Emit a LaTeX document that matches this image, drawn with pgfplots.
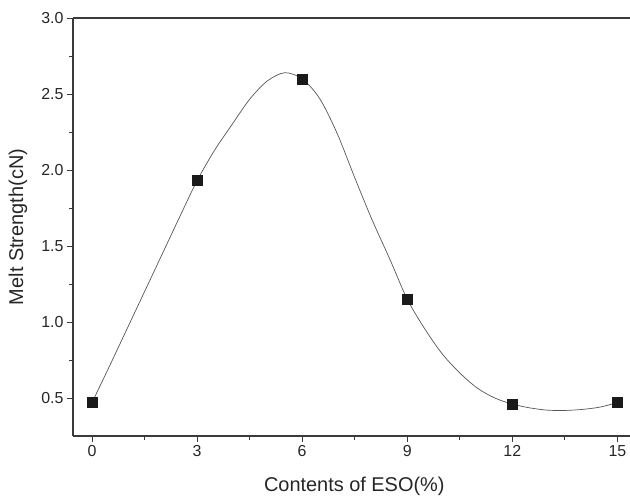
\documentclass[border=0pt]{standalone}
\usepackage{fontspec}
\setmainfont{Liberation Sans}
\usepackage{pgfplots}
\pgfplotsset{compat=1.18}

\definecolor{axisgray}{HTML}{3A3A3A}
\definecolor{curvegray}{HTML}{555555}
\definecolor{markblack}{HTML}{1A1A1A}

\begin{document}
\begin{tikzpicture}
\begin{axis}[
  scale only axis,
  width=557bp, height=418bp,
  at={(0,0)}, anchor=south west,
  xmin=-0.543, xmax=15.36,
  ymin=0.25, ymax=3.0,
  axis x line*=bottom, axis y line*=left,
  axis line style={-, axisgray, line width=1.1bp},
  xtick={0,3,6,9,12,15},
  ytick={0.5,1.0,1.5,2.0,2.5,3.0},
  minor x tick num=1, minor y tick num=1,
  tick align=outside,
  major tick length=6bp, minor tick length=4bp,
  every tick/.style={axisgray, line width=0.9bp},
  /pgf/number format/assume math mode=true,
  tick label style={font=\fontsize{16}{16}\selectfont, text=black!85},
  yticklabel style={/pgf/number format/.cd, fixed, fixed zerofill, precision=1},
  xticklabel style={/pgf/number format/.cd, fixed, precision=0},
  xlabel={Contents of ESO(\%)},
  ylabel={Melt Strength(cN)},
  every axis x label/.style={at={(axis description cs:0.505,-0.12)}, anchor=center,
    font=\fontsize{20}{20}\selectfont, text=black!85},
  every axis y label/.style={at={(axis description cs:-0.099,0.5)}, rotate=90, anchor=center,
    font=\fontsize{20}{20}\selectfont, text=black!85},
  clip=false,
]
% frame line along the top edge
\draw[axisgray, line width=1.1bp] (rel axis cs:0,1) -- (rel axis cs:1,1);

% fitted curve, sampled every 0.5
\addplot[curvegray, line width=0.7bp, smooth, tension=0.5, no marks] coordinates {
  (0,0.47) (0.5,0.71) (1,0.955) (1.5,1.20) (2,1.445) (2.5,1.69) (3,1.93)
  (3.5,2.13) (4,2.30) (4.5,2.465) (5,2.585) (5.5,2.64) (6,2.60)
  (6.5,2.47) (7,2.24) (7.5,1.95) (8,1.67) (8.5,1.415) (9,1.15)
  (9.5,0.955) (10,0.79) (10.5,0.665) (11,0.565) (11.5,0.50) (12,0.46)
  (12.5,0.435) (13,0.42) (13.5,0.418) (14,0.425) (14.5,0.44) (15,0.47)
};

% measured values
\addplot[only marks, mark=square*, mark size=5bp, markblack,
  mark options={fill=markblack, draw=markblack}] coordinates {
  (0,0.47) (3,1.93) (6,2.60) (9,1.15) (12,0.46) (15,0.47)
};
\end{axis}
\pgfresetboundingbox
\path[use as bounding box] (-73bp,-64bp) rectangle (557bp,436bp);
\end{tikzpicture}
\end{document}
